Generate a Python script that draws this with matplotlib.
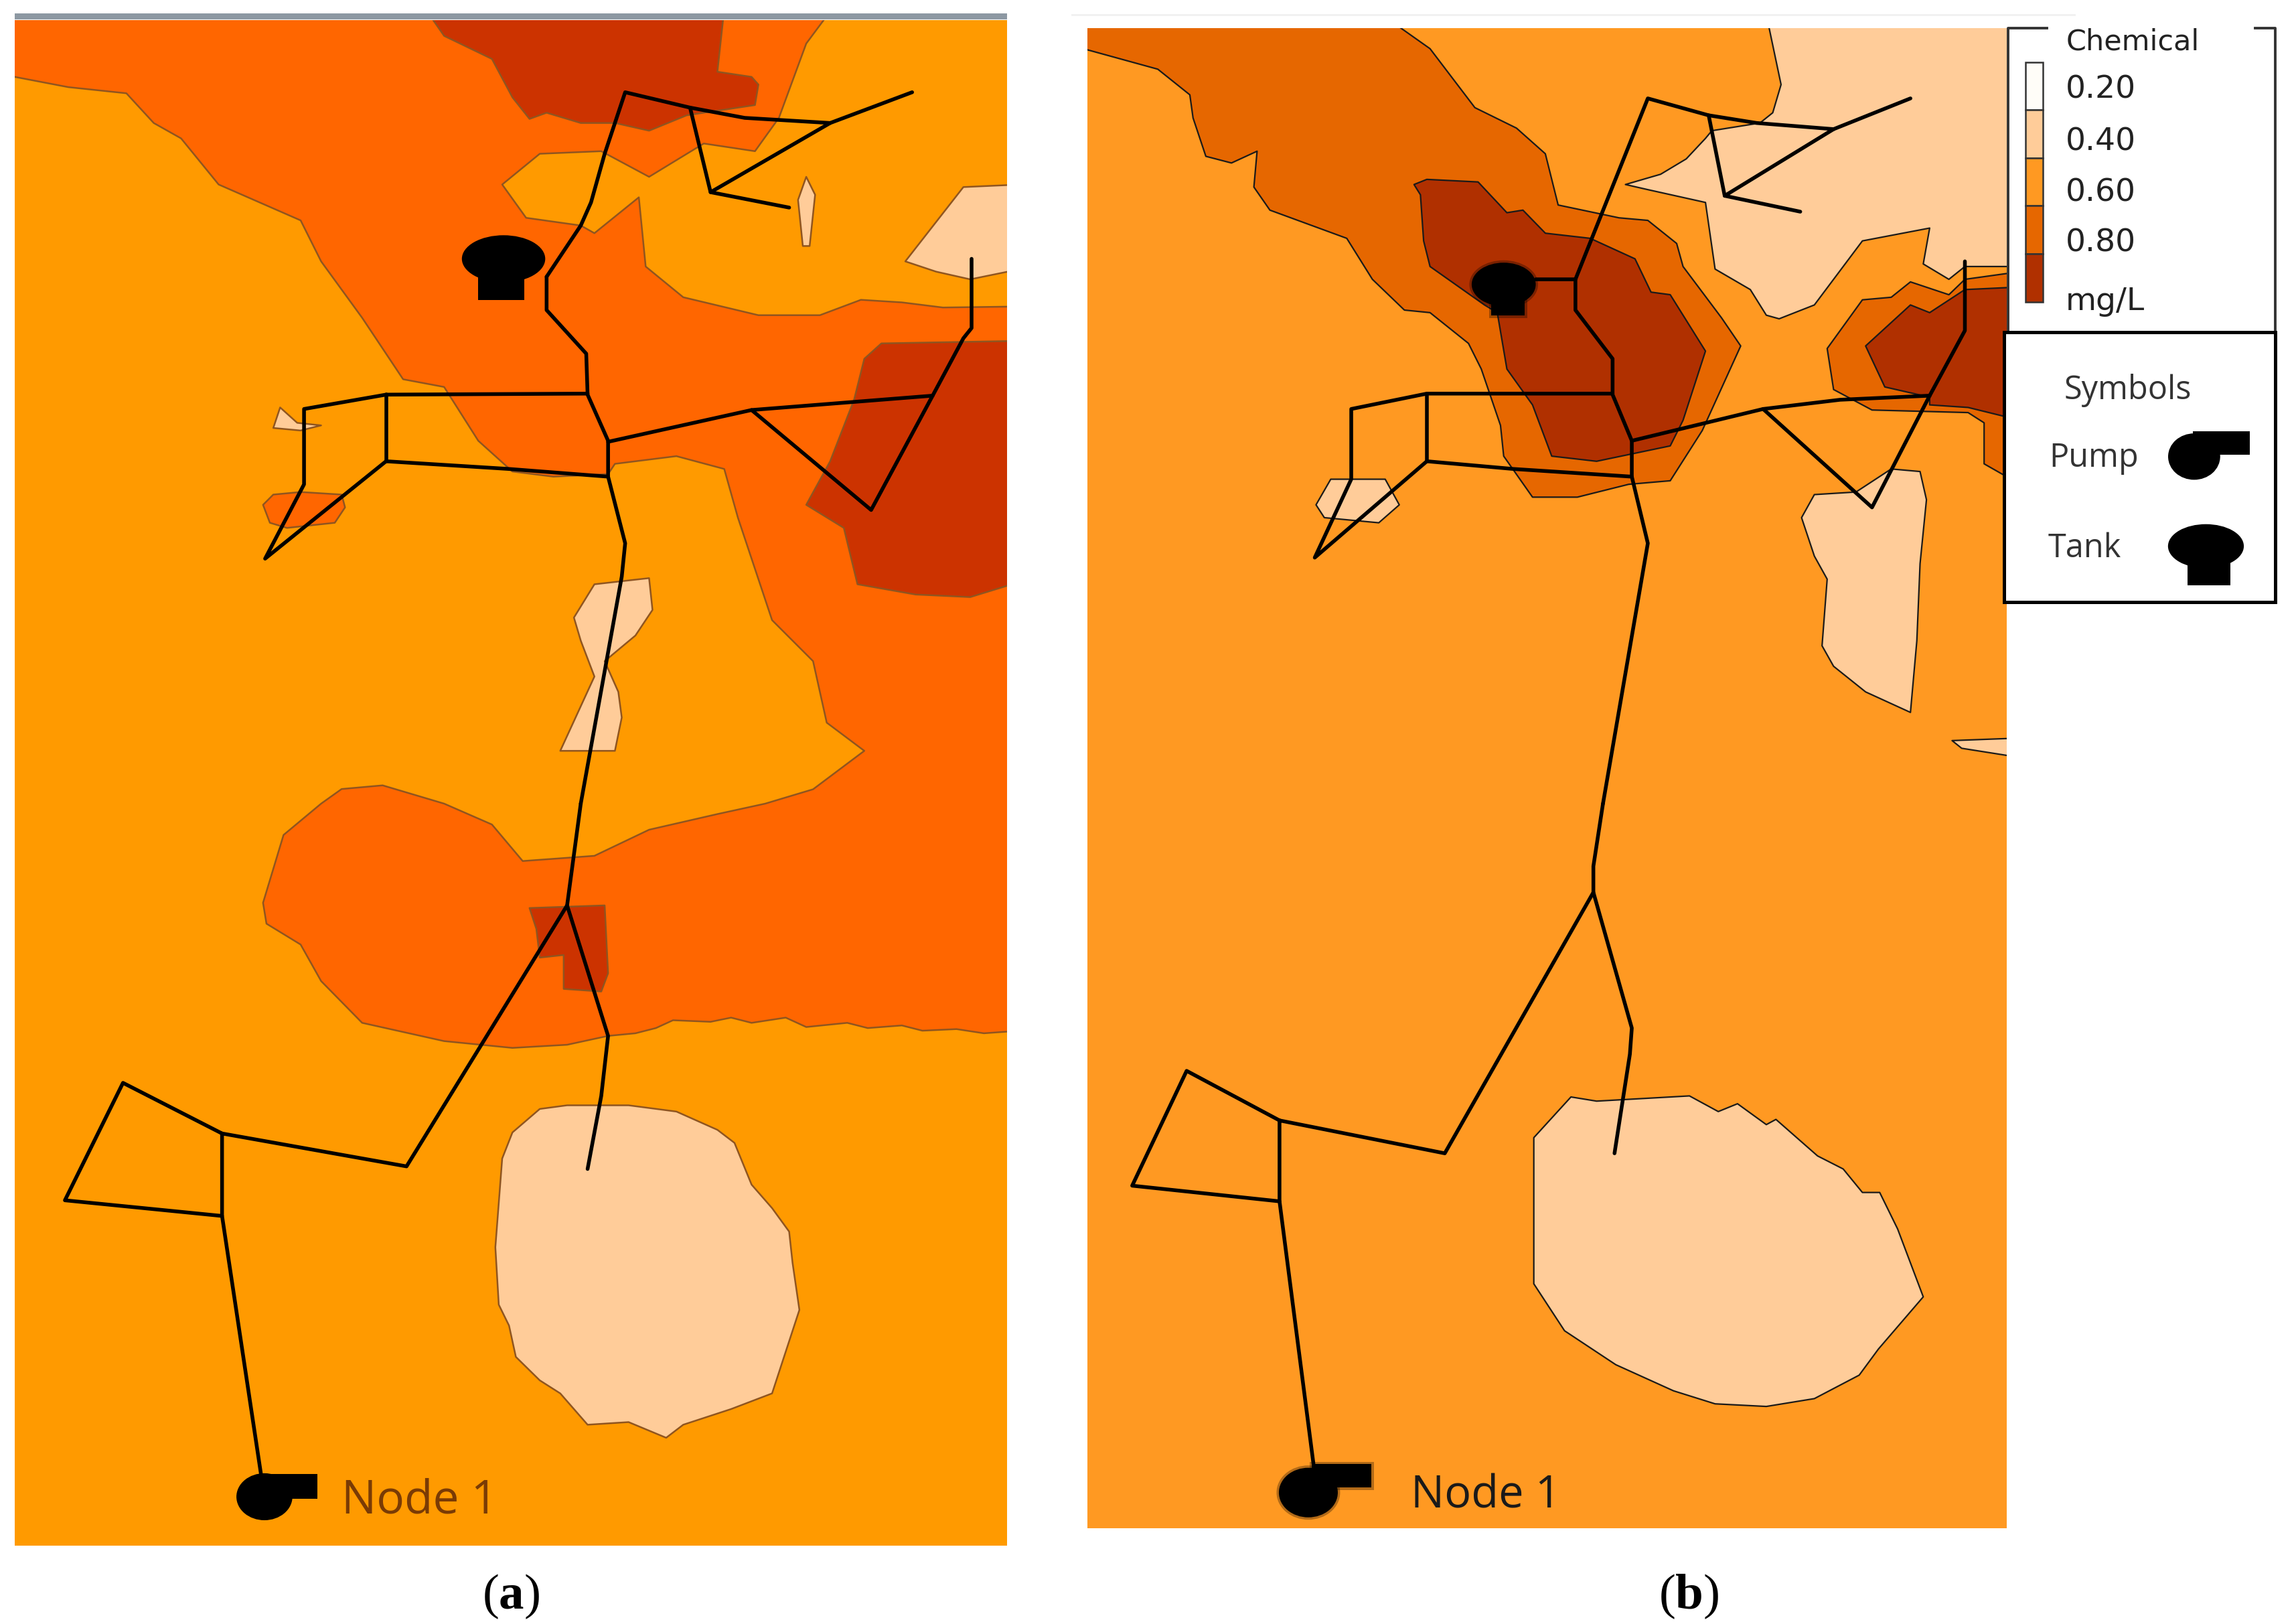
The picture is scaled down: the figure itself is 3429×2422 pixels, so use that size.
import numpy as np
import matplotlib
matplotlib.use("Agg")
import matplotlib.pyplot as plt
from matplotlib.patches import Polygon, Rectangle, Ellipse

plt.rcParams["mathtext.fontset"] = "custom"
plt.rcParams["mathtext.rm"] = "Liberation Serif"
plt.rcParams["mathtext.bf"] = "Liberation Serif:bold"

A_TOP = (0, 0, 1600, 1200)
A_BOT = (0, 1200, 1600, 1222)
B_TOP = (1600, 0, 1500, 1200)
B_BOT = (1600, 1200, 1500, 1222)
LEG = (2900, 0, 530, 920)

# map frames in picture pixels: left, top, right, bottom
A_FRAME = (22, 30, 1504, 2308)
B_FRAME = (1624, 42, 2997, 2282)


def crop(pts, c):
    pts = np.array(pts, dtype=float)
    return np.column_stack((c[0] + pts[:, 0] * c[2] / 1568, c[1] + pts[:, 1] * c[3] / 1568))


# colours
a_colors = {"base": "#ff9a00", "mid": "#ff6600", "dark": "#cc3300", "light": "#ffcc99"}
b_colors = {"base": "#ff9922", "mid": "#e66700", "dark": "#b03000", "light": "#ffcc99"}

legend_labels = ["0.20", "0.40", "0.60", "0.80", "mg/L"]
legend_colors = ["#fffdf8", "#ffcc99", "#ff9922", "#e66700", "#b03000"]

# panel a contours
a_mid_top = [(22, 42), (22, 145), (100, 170), (185, 182), (225, 240), (265, 270), (320, 360), (440, 430),
             (470, 510), (530, 620), (590, 740), (650, 755), (700, 860), (750, 920), (810, 930), (890, 925),
             (900, 905), (990, 890), (1060, 915), (1080, 1010), (1130, 1210), (1190, 1290), (1210, 1410),
             (1265, 1465), (1190, 1540)]
a_mid_tongue = [(1120, 0), (1050, 20), (950, 50), (870, 100), (765, 110), (720, 40), (650, 0), (560, -35),
                (500, -28), (470, 0), (415, 60), (385, 190), (390, 230), (440, 270), (470, 340), (530, 420),
                (650, 455), (750, 468), (830, 462), (890, 445), (930, 440), (960, 430), (985, 415), (1040, 418),
                (1070, 410), (1100, 420), (1150, 410), (1180, 428), (1240, 420), (1270, 430), (1320, 425),
                (1350, 435), (1400, 432), (1440, 440), (1474, 435)]
a_mid_upper = [(1474, 598), (1380, 600), (1320, 590), (1260, 585), (1200, 615), (1110, 615), (1000, 580),
               (945, 520), (935, 385), (870, 455), (850, 440), (770, 425), (735, 360), (790, 300), (880, 295),
               (950, 345), (1030, 280), (1105, 295), (1140, 230), (1180, 85), (1220, 42)]
a_dark_top = [(620, 42), (650, 70), (720, 115), (750, 190), (775, 232), (800, 220), (850, 240), (900, 240),
              (950, 255), (1005, 225), (1105, 205), (1110, 165), (1100, 150), (1050, 140), (1060, 42)]
a_dark_right = [(1474, 665), (1290, 670), (1265, 700), (1250, 780), (1215, 900), (1180, 985), (1235, 1030),
                (1255, 1140), (1340, 1160), (1420, 1165), (1474, 1135)]
a_mid_small = [(385, 985), (400, 965), (440, 960), (500, 965), (505, 990), (490, 1020), (420, 1030), (395, 1020)]
a_light_top = [(1410, 365), (1474, 360), (1474, 525), (1420, 545), (1370, 530), (1325, 510)]
a_light_sliver = [(1180, 345), (1193, 380), (1185, 480), (1175, 480), (1168, 390)]
a_light_tiny = [(410, 795), (435, 825), (470, 830), (440, 840), (400, 835)]
a_light_bow = [(870, 1140), (950, 1128), (955, 1190), (930, 1240), (885, 1290), (905, 1350), (910, 1400),
               (900, 1465), (820, 1465), (870, 1320), (850, 1250), (840, 1205)]
a_dark_small = [(775, 200), (885, 195), (890, 325), (880, 360), (825, 355), (825, 290), (790, 295), (785, 240)]
a_light_big = [(790, 585), (830, 578), (920, 578), (990, 590), (1050, 625), (1075, 650), (1100, 730), (1130, 775),
               (1155, 820), (1160, 880), (1170, 970), (1150, 1050), (1130, 1130), (1070, 1160), (1000, 1190),
               (975, 1215), (920, 1185), (860, 1190), (820, 1130), (790, 1105), (755, 1060), (745, 1000), (730, 960),
               (725, 850), (735, 680), (750, 630)]

# panel a pipes
a_pipes_top = [
    [(800, 540), (800, 605), (858, 690), (860, 770), (890, 860), (890, 930), (915, 1060), (910, 1125), (850, 1568)],
    [(800, 540), (850, 440), (865, 395), (885, 300), (915, 180), (1010, 210), (1090, 230), (1215, 240), (1335, 180)],
    [(1010, 210), (1040, 375), (1215, 240)],
    [(1040, 375), (1155, 405)],
    [(860, 768), (565, 770), (445, 798), (445, 945), (388, 1090), (565, 900), (745, 915), (890, 930)],
    [(565, 770), (565, 900)],
    [(890, 862), (1100, 800), (1365, 772), (1410, 660), (1422, 640), (1422, 505)],
    [(1100, 800), (1275, 995), (1365, 772)],
]
a_pipes_bot = [
    [(850, 0), (830, 195), (890, 445), (880, 560), (860, 700)],
    [(830, 195), (595, 695), (325, 632), (180, 535), (95, 760), (325, 790), (325, 632)],
    [(325, 790), (382, 1285)],
]

# panel b contours
b_mid = [(25, 55), (25, 90), (135, 135), (185, 185), (190, 230), (210, 305), (250, 318), (290, 295), (285, 365),
         (310, 410), (430, 465), (470, 545), (520, 605), (560, 610), (620, 670), (640, 720), (670, 830), (675, 890),
         (720, 970), (790, 970), (870, 945), (935, 938), (985, 840), (1045, 675), (1015, 620), (955, 520), (945, 475),
         (900, 430), (855, 425), (760, 400), (740, 300), (695, 250), (630, 210), (560, 95), (485, 55)]
b_dark = [(535, 360), (555, 350), (635, 355), (680, 415), (705, 410), (740, 455), (810, 465), (880, 505), (905, 570),
          (935, 575), (990, 685), (955, 820), (935, 870), (820, 900), (750, 890), (720, 790), (680, 720), (665, 610),
          (645, 595), (560, 520), (550, 470), (545, 380)]
b_light_top = [(1085, 55), (1108, 165), (1095, 220), (1075, 240), (1000, 255), (990, 270), (960, 310), (920, 340),
               (865, 360), (900, 370), (990, 395), (1005, 525), (1060, 565), (1085, 615), (1105, 622), (1160, 595),
               (1235, 470), (1340, 445), (1330, 515), (1370, 545), (1395, 520), (1460, 520), (1460, 55)]
b_mid_right = [(1460, 530), (1395, 545), (1370, 575), (1310, 550), (1280, 580), (1235, 585), (1180, 680), (1190, 760),
               (1250, 800), (1400, 805), (1425, 825), (1425, 905), (1460, 945)]
b_dark_right = [(1460, 560), (1395, 565), (1340, 610), (1310, 595), (1240, 675), (1270, 755), (1340, 775),
                (1340, 790), (1400, 795), (1460, 820)]
b_light_blob = [(1280, 915), (1325, 920), (1335, 975), (1325, 1100), (1320, 1250), (1310, 1390), (1240, 1350),
                (1190, 1300), (1172, 1260), (1180, 1130), (1160, 1085), (1140, 1010), (1160, 965), (1225, 960)]
b_light_west = [(405, 935), (490, 935), (512, 985), (480, 1020), (395, 1010), (382, 985)]
b_light_sliver = [(1375, 1445), (1460, 1440), (1460, 1478), (1390, 1460)]
b_light_big = [(780, 562), (820, 570), (965, 560), (1010, 590), (1040, 575), (1085, 615), (1100, 605), (1165, 675),
               (1205, 700), (1235, 745), (1262, 745), (1290, 815), (1330, 945), (1260, 1045), (1230, 1095), (1160, 1140),
               (1085, 1155), (1005, 1150), (940, 1125), (850, 1075), (770, 1010), (722, 920), (722, 640)]

# panel b pipes
b_pipes_top = [
    [(725, 545), (787, 545), (787, 605), (845, 700), (845, 770), (875, 860), (875, 930), (900, 1060), (830, 1568)],
    [(787, 545), (900, 192), (995, 225), (1070, 240), (1190, 252), (1310, 192)],
    [(995, 225), (1020, 382), (1190, 252)],
    [(1020, 382), (1138, 413)],
    [(845, 768), (555, 768), (437, 798), (437, 935), (380, 1088), (555, 900), (690, 915), (875, 930)],
    [(555, 768), (555, 900)],
    [(875, 860), (1080, 798), (1200, 780), (1340, 772), (1395, 645), (1395, 510)],
    [(1080, 798), (1250, 990), (1340, 772)],
]
b_pipes_bot = [
    [(830, 0), (815, 120), (815, 170), (875, 430), (872, 480), (848, 670)],
    [(815, 170), (583, 670), (325, 607), (180, 512), (95, 732), (325, 762), (325, 607)],
    [(325, 762), (378, 1265)],
]

fig = plt.figure(figsize=(17.15, 12.11), dpi=200)
ax = fig.add_axes([0, 0, 1, 1])
ax.set_xlim(0, 3430)
ax.set_ylim(2422, 0)
ax.axis("off")


def frame_patch(frame, color):
    rect = Rectangle((frame[0], frame[1]), frame[2] - frame[0], frame[3] - frame[1], color=color, lw=0)
    ax.add_patch(rect)
    return rect


def fill(pts, color, edge, lw, frame, clip):
    # points on the frame go past it, so the contour line does not run along the map border
    pts = pts.copy()
    pts[pts[:, 0] <= frame[0] + 4, 0] = frame[0] - 20
    pts[pts[:, 0] >= frame[2] - 4, 0] = frame[2] + 20
    pts[pts[:, 1] <= frame[1] + 4, 1] = frame[1] - 20
    pts[pts[:, 1] >= frame[3] - 4, 1] = frame[3] + 20
    poly = Polygon(pts, closed=True, facecolor=color, edgecolor=edge, linewidth=lw, joinstyle="round")
    ax.add_patch(poly)
    poly.set_clip_path(clip)


def pipes(lines, c):
    for line in lines:
        pts = crop(line, c)
        ax.plot(pts[:, 0], pts[:, 1], color="black", lw=2.0, solid_joinstyle="round", solid_capstyle="round")


def symbol(c, head, tail, blur=False, z=2):
    # head = centre x, centre y, width, height; tail = x0, y0, x1, y1
    (hx, hy), (tx0, ty0), (tx1, ty1) = crop([head[:2], tail[:2], tail[2:]], c)
    parts = [Ellipse((hx, hy), head[2] * c[2] / 1568, head[3] * c[3] / 1568),
             Rectangle((tx0, ty0), tx1 - tx0, ty1 - ty0)]
    for part in parts:
        part.set(facecolor="black", edgecolor="black", linewidth=0, zorder=z)
        ax.add_patch(part)
    if blur:
        for part in [Ellipse((hx, hy), head[2] * c[2] / 1568, head[3] * c[3] / 1568),
                     Rectangle((tx0, ty0), tx1 - tx0, ty1 - ty0)]:
            part.set(facecolor="none", edgecolor="black", linewidth=2.5, alpha=0.3, zorder=z)
            ax.add_patch(part)


# panel a
ax.add_patch(Rectangle((22, 20), 1482, 9, color="#8d98a2", lw=0))
a_clip = frame_patch(A_FRAME, a_colors["base"])
a_edge, a_lw = "#8f5520", 0.9
a_mid_outline = np.vstack(([[22, 30]], crop(a_mid_top[1:], A_TOP), crop(a_mid_tongue, A_BOT),
                           crop(a_mid_upper[:-1], A_TOP), [[1245, 30]], [[1504, 30]]))
a_mid_outline = np.vstack((a_mid_outline[:-2], [[1245, 30]]))
fill(a_mid_outline, a_colors["mid"], a_edge, a_lw, A_FRAME, a_clip)
fill(np.vstack(([[633, 30]], crop(a_dark_top[1:-1], A_TOP), [[1082, 30]])), a_colors["dark"], a_edge, a_lw, A_FRAME, a_clip)
fill(crop(a_dark_right, A_TOP), a_colors["dark"], a_edge, a_lw, A_FRAME, a_clip)
fill(crop(a_mid_small, A_TOP), a_colors["mid"], a_edge, a_lw, A_FRAME, a_clip)
fill(crop(a_dark_small, A_BOT), a_colors["dark"], a_edge, a_lw, A_FRAME, a_clip)
for shape in (a_light_top, a_light_sliver, a_light_tiny, a_light_bow):
    fill(crop(shape, A_TOP), a_colors["light"], a_edge, a_lw, A_FRAME, a_clip)
fill(crop(a_light_big, A_BOT), a_colors["light"], a_edge, a_lw, A_FRAME, a_clip)
pipes(a_pipes_top, A_TOP)
pipes(a_pipes_bot, A_BOT)
symbol(A_BOT, (387, 1328, 82, 90), (385, 1285, 465, 1332))
symbol(A_TOP, (737, 505, 122, 92), (700, 530, 767, 585))
ax.text(510, 2241, "Node 1", family="Open Sans", fontsize=25, color="#7a3b05", va="center", ha="left")

# panel b
ax.add_patch(Rectangle((1600, 21), 1500, 3, color="#f1f1f1", lw=0))
b_clip = frame_patch(B_FRAME, b_colors["base"])
b_edge, b_lw = "#1a1a1a", 0.8
fill(crop(b_mid, B_TOP), b_colors["mid"], b_edge, b_lw, B_FRAME, b_clip)
fill(crop(b_dark, B_TOP), b_colors["dark"], b_edge, b_lw, B_FRAME, b_clip)
fill(crop(b_light_top, B_TOP), b_colors["light"], b_edge, b_lw, B_FRAME, b_clip)
fill(crop(b_mid_right, B_TOP), b_colors["mid"], b_edge, b_lw, B_FRAME, b_clip)
fill(crop(b_dark_right, B_TOP), b_colors["dark"], b_edge, b_lw, B_FRAME, b_clip)
for shape in (b_light_blob, b_light_west, b_light_sliver):
    fill(crop(shape, B_TOP), b_colors["light"], b_edge, b_lw, B_FRAME, b_clip)
fill(crop(b_light_big, B_BOT), b_colors["light"], b_edge, b_lw, B_FRAME, b_clip)
pipes(b_pipes_top, B_TOP)
pipes(b_pipes_bot, B_BOT)
symbol(B_BOT, (370, 1320, 92, 95), (375, 1265, 468, 1310), blur=True)
symbol(B_TOP, (675, 555, 100, 85), (655, 560, 708, 615), blur=True)
ax.text(2107, 2234, "Node 1", family="Open Sans", fontsize=24, color="#1a1a1a", va="center", ha="left")

# legend boxes
chem_lines = crop([(292, 840), (292, 72), (465, 72)], LEG)
ax.add_patch(Rectangle((chem_lines[0, 0], 42), 3398 - chem_lines[0, 0], 456, color="white", lw=0, zorder=3))
ax.plot(chem_lines[:, 0], chem_lines[:, 1], color="#333333", lw=1.4, zorder=4)
chem_right = crop([(1385, 72), (1472, 72), (1472, 840)], LEG)
ax.plot(chem_right[:, 0], chem_right[:, 1], color="#333333", lw=1.4, zorder=4)

bar_edges = [158, 280, 403, 523, 646, 768]
label_rows = [228, 361, 491, 618, 768]
for i, col in enumerate(legend_colors):
    (x0, y0), (x1, y1) = crop([(370, bar_edges[i]), (448, bar_edges[i + 1])], LEG)
    ax.add_patch(Rectangle((x0, y0), x1 - x0, y1 - y0, facecolor=col, edgecolor="#333333", lw=0.9, zorder=5))
    lx, ly = crop([(548, label_rows[i])], LEG)[0]
    ax.text(lx, ly, legend_labels[i], fontsize=17, color="#222222", va="center", ha="left", zorder=5)
lx, ly = crop([(548, 106)], LEG)[0]
ax.text(lx, ly, "Chemical", fontsize=15.5, color="#222222", va="center", ha="left", zorder=5)

(bx0, by0), (bx1, by1) = crop([(275, 845), (1472, 1533)], LEG)
ax.add_patch(Rectangle((bx0, by0), bx1 - bx0, by1 - by0, facecolor="white", edgecolor="black", lw=1.8, zorder=6))
for label, pos in (("Symbols", (540, 994)), ("Pump", (474, 1167)), ("Tank", (470, 1397))):
    lx, ly = crop([pos], LEG)[0]
    ax.text(lx, ly, label, family="Open Sans", fontsize=17.5, color="#333333", va="center", ha="left", zorder=7)
symbol(LEG, (1115, 1162, 230, 118), (1110, 1098, 1360, 1158), z=7)
symbol(LEG, (1167, 1390, 335, 112), (1085, 1430, 1275, 1490), z=7)

# captions
ax.text(763, 2384, r"($\mathbf{a}$)", family="Liberation Serif", fontsize=27, color="black", ha="center", va="center")
ax.text(2522, 2384, r"($\mathbf{b}$)", family="Liberation Serif", fontsize=27, color="black", ha="center", va="center")

fig.savefig("out.png", dpi=200, facecolor="white")
